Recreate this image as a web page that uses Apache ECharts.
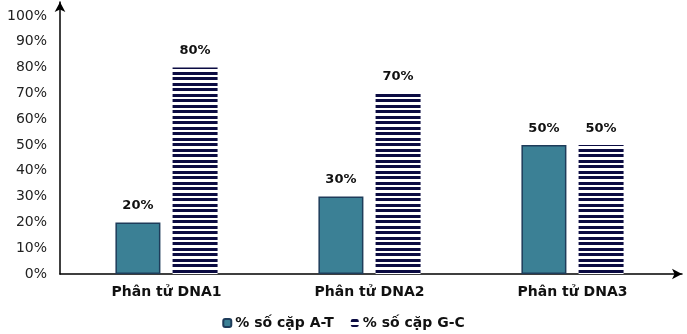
<!DOCTYPE html>
<html>
<head>
<meta charset="utf-8">
<script src="https://cdn.jsdelivr.net/npm/echarts@6/dist/echarts.min.js"></script>
<style>
html,body{margin:0;padding:0;background:#fff;}
#chart{width:687px;height:334px;}
</style>
</head>
<body>
<div id="chart"></div>
<script>
const categories = ['Phân tử DNA1', 'Phân tử DNA2', 'Phân tử DNA3'];
const seriesNames = ['% số cặp A-T', '% số cặp G-C'];
const atValues = [20, 30, 50];
const gcValues = [80, 70, 50];
const yTicks = [0, 10, 20, 30, 40, 50, 60, 70, 80, 90, 100];

function makeStripe() {
  const c = document.createElement('canvas');
  c.width = 4; c.height = 11;
  const ctx = c.getContext('2d');
  ctx.fillStyle = '#ffffff';
  ctx.fillRect(0, 0, 4, 11);
  ctx.fillStyle = '#0b0b42';
  ctx.fillRect(0, 0, 4, 3);
  ctx.fillRect(0, 6, 4, 3);
  return c;
}
const stripe = { image: makeStripe(), repeat: 'repeat' };

const font = '"DejaVu Sans", sans-serif';
const chart = echarts.init(document.getElementById('chart'));
chart.setOption({
  animation: false,
  textStyle: { fontFamily: font },
  grid: [
    { left: 60, right: 5, top: 2, bottom: 60 },
    { left: 65, right: 13, top: 16, bottom: 60 }
  ],
  legend: {
    top: 311,
    left: 'center',
    itemWidth: 8,
    itemHeight: 8,
    itemGap: 17,
    textStyle: { fontFamily: font, fontSize: 14, fontWeight: 'bold', color: '#111', padding: [0, 0, 0, -1] },
    data: seriesNames
  },
  xAxis: [
    {
      gridIndex: 0, type: 'value', min: 0, max: 1,
      axisLine: { show: true, symbol: ['none', 'arrow'], symbolSize: [8, 10], lineStyle: { color: '#000', width: 1.5 } },
      axisTick: { show: false }, axisLabel: { show: false }, splitLine: { show: false }
    },
    {
      gridIndex: 1, type: 'category', data: categories,
      axisLine: { show: false }, axisTick: { show: false },
      axisLabel: { margin: 11, fontFamily: font, fontSize: 14, fontWeight: 'bold', color: '#111' }
    }
  ],
  yAxis: [
    {
      gridIndex: 0, type: 'value', min: 0, max: 1,
      axisLine: { show: true, symbol: ['none', 'arrow'], symbolSize: [8, 10], lineStyle: { color: '#000', width: 1.5 } },
      axisTick: { show: false }, axisLabel: { show: false }, splitLine: { show: false }
    },
    {
      gridIndex: 1, type: 'value', min: yTicks[0], max: yTicks[yTicks.length - 1], interval: 10,
      axisLine: { show: false }, axisTick: { show: false }, splitLine: { show: false },
      axisLabel: { margin: 18, formatter: '{value}%', fontFamily: font, fontSize: 14, color: '#222' }
    }
  ],
  series: [
    {
      name: seriesNames[0], type: 'bar', xAxisIndex: 1, yAxisIndex: 1,
      data: atValues, barWidth: 45, barGap: '27%',
      itemStyle: { color: '#3b8095', borderColor: '#1e3c5a', borderWidth: 1.5 },
      label: { show: true, position: 'top', distance: 10, formatter: '{c}%', fontFamily: font, fontSize: 13, fontWeight: 'bold', color: '#111' }
    },
    {
      name: seriesNames[1], type: 'bar', xAxisIndex: 1, yAxisIndex: 1,
      data: gcValues, barWidth: 45,
      itemStyle: { color: stripe },
      label: { show: true, position: 'top', distance: 10, formatter: '{c}%', fontFamily: font, fontSize: 13, fontWeight: 'bold', color: '#111' }
    }
  ]
});
</script>
</body>
</html>
